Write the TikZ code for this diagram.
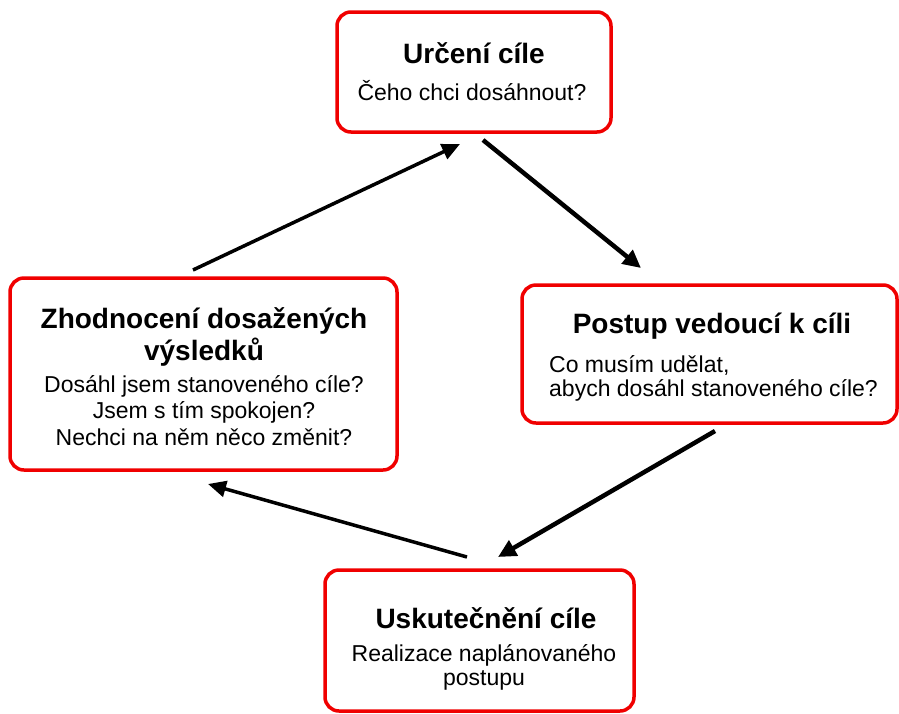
\documentclass[tikz,border=0pt]{standalone}
\usepackage{fontspec}
\setmainfont{Liberation Sans}
\usetikzlibrary{arrows.meta}
\definecolor{boxred}{RGB}{240,0,0}
\tikzset{
  stagebox/.style={draw=boxred, line width=3.5pt, rounded corners=14pt, fill=white, inner sep=0pt, rectangle},
  ttl/.style={anchor=base, inner sep=0pt, font=\fontsize{28}{32}\selectfont\bfseries},
  txt/.style={anchor=base, inner sep=0pt, font=\fontsize{23}{27}\selectfont},
  txtl/.style={anchor=base west, inner sep=0pt, font=\fontsize{23}{27}\selectfont},
  flowthick/.style={line width=4.5pt, -{Triangle[length=18pt,width=17pt]}},
  flowthin/.style={line width=3.5pt, -{Triangle[length=18pt,width=16pt]}},
}
\begin{document}
\begin{tikzpicture}[x=1pt,y=-1pt]
\useasboundingbox (0,0) rectangle (899,713);
% boxes
\node[stagebox, minimum width=274pt, minimum height=120pt] (goal) at (474,72) {};
\node[stagebox, minimum width=387pt, minimum height=192pt] (evalbox) at (203.5,374) {};
\node[stagebox, minimum width=375pt, minimum height=138pt] (plan) at (709.5,354) {};
\node[stagebox, minimum width=309pt, minimum height=141pt] (realize) at (479.5,640.5) {};
% texts
\node[ttl] (t1) at (474,63) {Určení cíle};
\node[txt] (s1) at (472,100) {Čeho chci dosáhnout?};

\node[ttl] (t2) at (712,333) {Postup vedoucí k cíli};
\node[txtl] (s2a) at (549,372) {Co musím udělat,};
\node[txtl] (s2b) at (549,396) {abych dosáhl stanoveného cíle?};

\node[ttl] (t3) at (486,628) {Uskutečnění cíle};
\node[txt] (s3a) at (484,661) {Realizace naplánovaného};
\node[txt] (s3b) at (484,685) {postupu};

\node[ttl] (t4a) at (204,328) {Zhodnocení dosažených};
\node[ttl] (t4b) at (204,360) {výsledků};
\node[txt] (s4a) at (204,392) {Dosáhl jsem stanoveného cíle?};
\node[txt] (s4b) at (204,418) {Jsem s tím spokojen?};
\node[txt] (s4c) at (204,445) {Nechci na něm něco změnit?};
% arrow ends
\coordinate (a1s) at (483,140);
\coordinate (a1e) at (641,268);
\coordinate (a2s) at (193,270);
\coordinate (a2e) at (460,144);
\coordinate (a3s) at (715,431);
\coordinate (a3e) at (498,557);
\coordinate (a4s) at (467,557);
\coordinate (a4e) at (208,484);
\draw[flowthick] (a1s) -- (a1e);
\draw[flowthin] (a2s) -- (a2e);
\draw[flowthick] (a3s) -- (a3e);
\draw[flowthin] (a4s) -- (a4e);
\end{tikzpicture}
\end{document}
